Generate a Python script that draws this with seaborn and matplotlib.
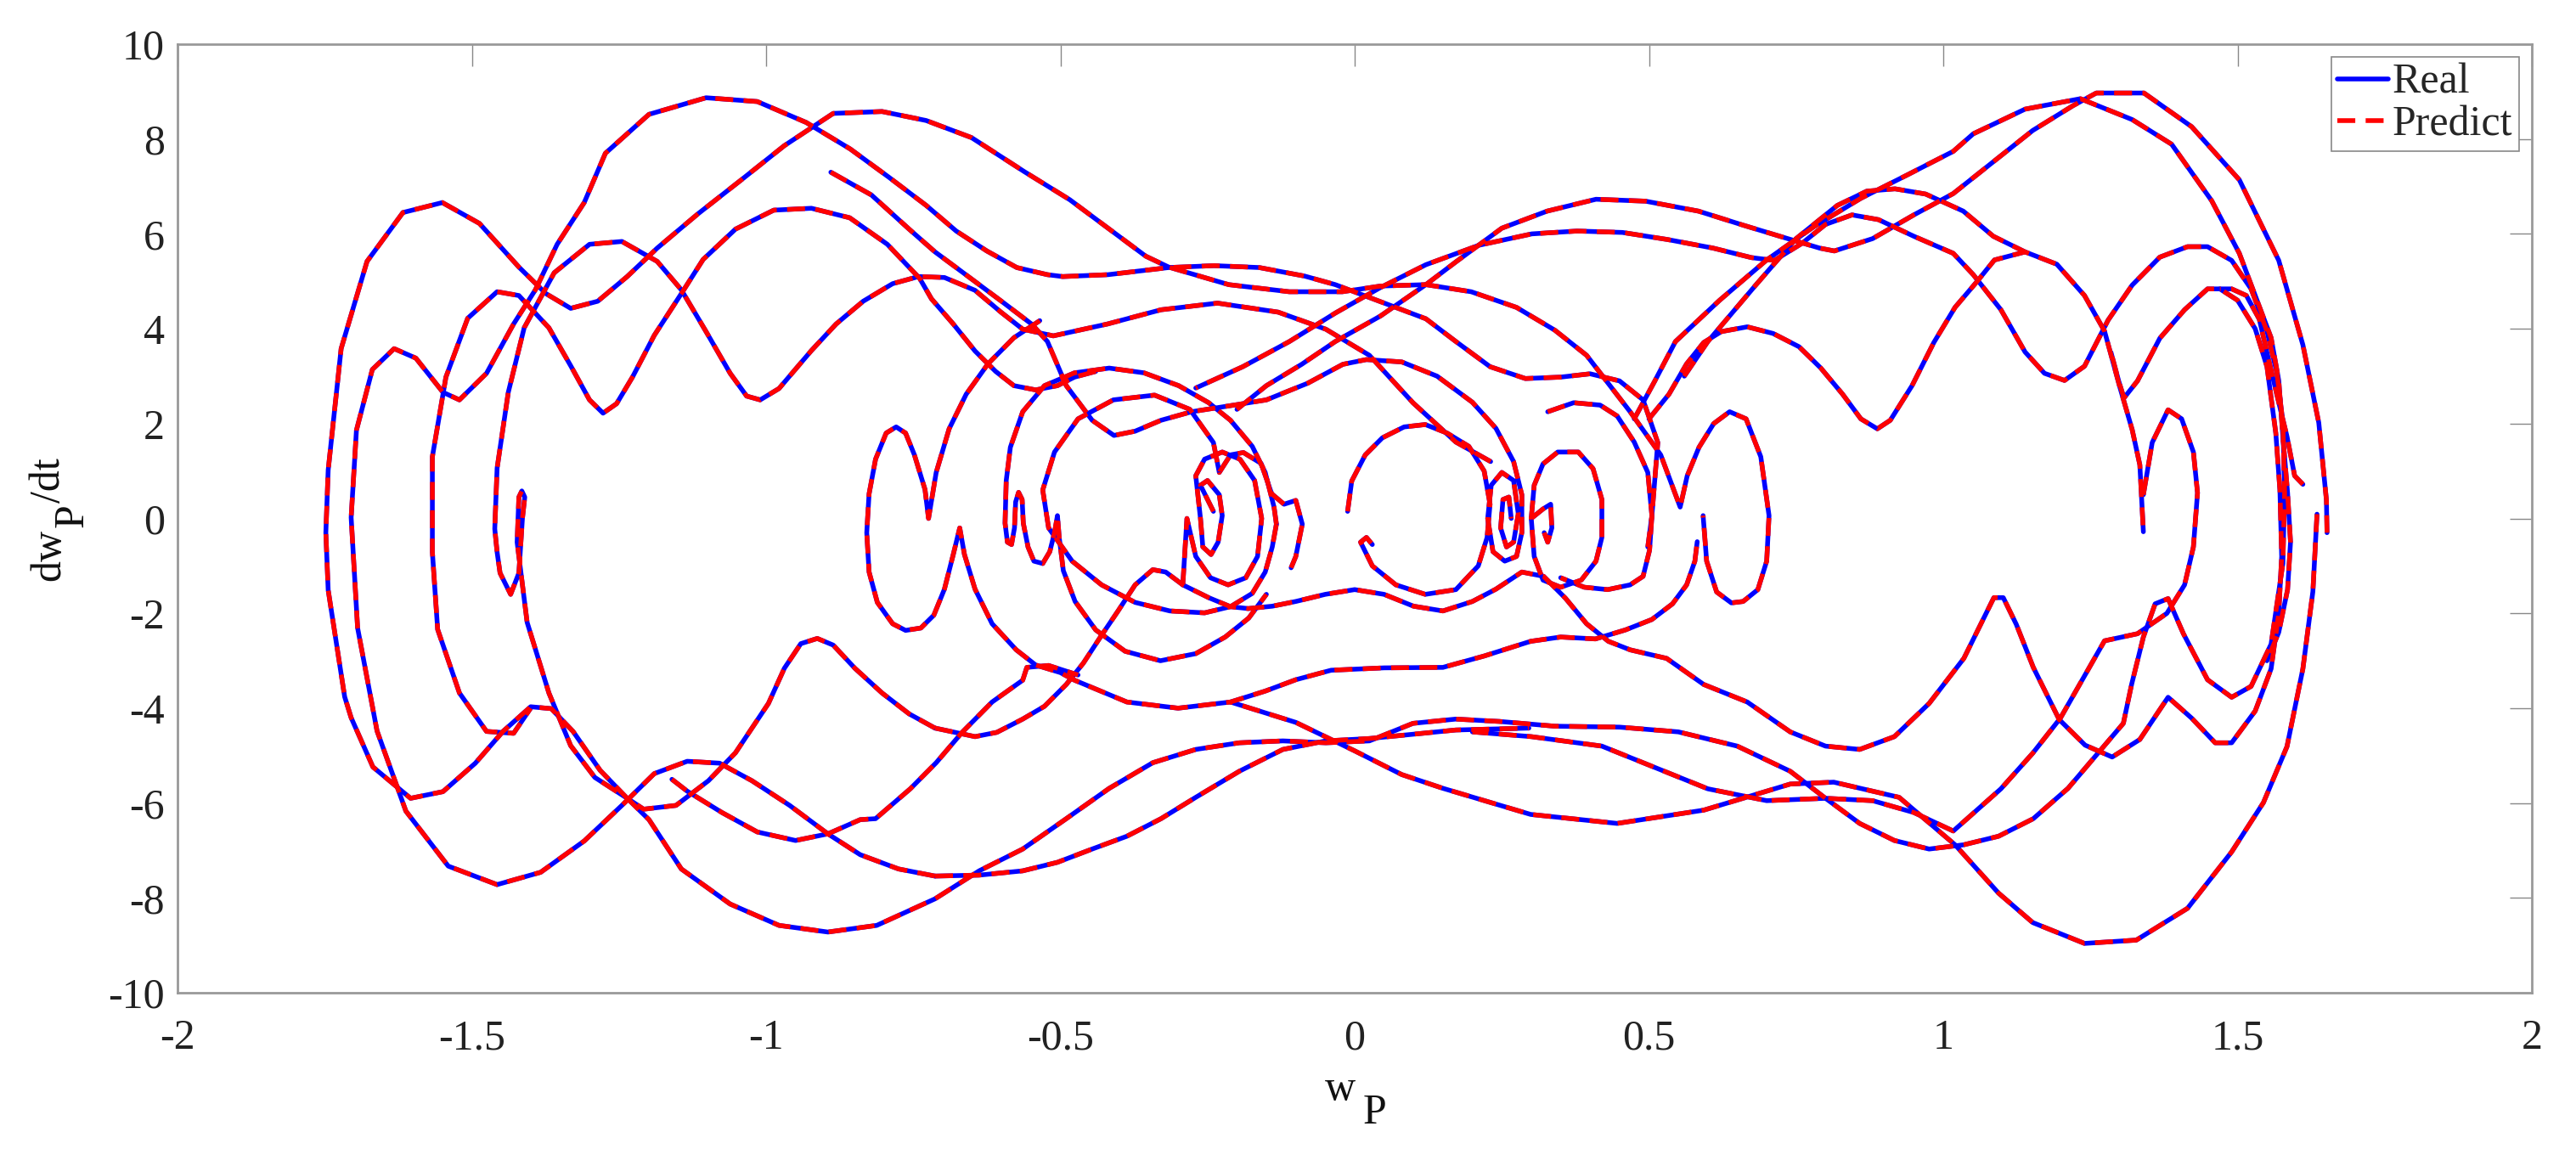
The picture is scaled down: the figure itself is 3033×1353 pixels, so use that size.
import numpy as np
import pandas as pd
import matplotlib
matplotlib.use("Agg")
import matplotlib.pyplot as plt
from matplotlib.lines import Line2D
import seaborn as sns

# traced pieces of the phase trajectory (w_P, dw_P/dt)
# ---- left lobe ----
arc_outer_left = [(-0.713, -4.42), (-0.757, -4.12), (-0.803, -3.68), (-0.849, -3.16), (-0.886, -2.67),
                  (-0.913, -2.53), (-0.941, -2.64), (-0.969, -3.16), (-0.996, -3.90), (-1.052, -4.94),
                  (-1.098, -5.53), (-1.153, -6.05), (-1.208, -6.13), (-1.236, -5.90), (-1.282, -5.31),
                  (-1.328, -4.49), (-1.365, -4.01), (-1.400, -3.97), (-1.447, -4.49), (-1.494, -5.16),
                  (-1.549, -5.76), (-1.604, -5.90), (-1.668, -5.24), (-1.705, -4.20), (-1.716, -3.76),
                  (-1.744, -1.51), (-1.748, -0.30), (-1.744, 1.02), (-1.722, 3.58), (-1.678, 5.42),
                  (-1.617, 6.45), (-1.550, 6.66), (-1.487, 6.22), (-1.420, 5.30), (-1.374, 4.74),
                  (-1.332, 4.43), (-1.286, 4.58), (-1.236, 5.10), (-1.185, 5.70), (-1.116, 6.42),
                  (-1.042, 7.14), (-0.969, 7.86), (-0.886, 8.54), (-0.803, 8.58), (-0.728, 8.39),
                  (-0.651, 8.03), (-0.561, 7.31), (-0.484, 6.72), (-0.419, 6.12), (-0.355, 5.53),
                  (-0.316, 5.30), (-0.214, 4.93), (-0.111, 4.78), (-0.021, 4.78), (0.044, 4.90),
                  (0.121, 4.93), (0.198, 4.78), (0.275, 4.45), (0.340, 3.97), (0.394, 3.44),
                  (0.468, 2.25), (0.520, 1.34), (0.553, 0.24), (0.565, 0.90), (0.585, 1.50),
                  (0.610, 2.00), (0.637, 2.25), (0.665, 2.10), (0.690, 1.30), (0.704, 0.06),
                  (0.700, -0.90), (0.685, -1.50), (0.660, -1.75), (0.640, -1.78), (0.615, -1.55),
                  (0.598, -0.90), (0.592, 0.06)]

arc_second_left = [(-0.713, -7.54), (-0.775, -7.39), (-0.840, -7.09), (-0.895, -6.65), (-0.960, -6.05),
                   (-1.024, -5.53), (-1.079, -5.16), (-1.134, -5.12), (-1.190, -5.38), (-1.245, -6.05),
                   (-1.309, -6.80), (-1.383, -7.46), (-1.457, -7.72), (-1.540, -7.33), (-1.612, -6.17),
                   (-1.661, -4.48), (-1.694, -2.31), (-1.705, 0.02), (-1.696, 1.86), (-1.669, 3.14),
                   (-1.632, 3.58), (-1.595, 3.38), (-1.549, 2.66), (-1.521, 2.50), (-1.475, 3.06),
                   (-1.429, 4.10), (-1.392, 4.82), (-1.355, 5.78), (-1.309, 6.66), (-1.273, 7.70),
                   (-1.199, 8.52), (-1.102, 8.87), (-1.015, 8.79), (-0.932, 8.35), (-0.857, 7.79),
                   (-0.792, 7.20), (-0.728, 6.60), (-0.677, 6.06), (-0.625, 5.64), (-0.574, 5.29),
                   (-0.522, 5.14), (-0.496, 5.10), (-0.419, 5.14), (-0.316, 5.29), (-0.239, 5.33),
                   (-0.162, 5.29), (-0.085, 5.11), (-0.033, 4.93), (0.044, 4.57), (0.121, 4.21),
                   (0.172, 3.73), (0.230, 3.20), (0.290, 2.95), (0.350, 2.98), (0.400, 3.05),
                   (0.450, 2.90), (0.490, 2.50), (0.515, 1.60), (0.505, 0.06), (0.501, -0.67),
                   (0.490, -1.22), (0.468, -1.40), (0.430, -1.50), (0.390, -1.45), (0.350, -1.25)]

arc_third_left = [(-0.440, 3.10), (-0.476, 2.98), (-0.505, 2.80), (-0.542, 2.71), (-0.579, 2.80),
                  (-0.610, 3.10), (-0.645, 3.53), (-0.682, 4.10), (-0.719, 4.63), (-0.739, 5.06),
                  (-0.794, 5.78), (-0.858, 6.34), (-0.923, 6.54), (-0.987, 6.50),
                  (-1.052, 6.10), (-1.107, 5.46), (-1.144, 4.74), (-1.190, 3.86), (-1.227, 2.98),
                  (-1.254, 2.42), (-1.277, 2.22), (-1.300, 2.50), (-1.332, 3.22), (-1.369, 4.02),
                  (-1.420, 4.70), (-1.457, 4.78), (-1.507, 4.22), (-1.544, 2.98), (-1.567, 1.30),
                  (-1.567, -0.71), (-1.558, -2.34), (-1.521, -3.68), (-1.475, -4.49), (-1.429, -4.53),
                  (-1.400, -4.00)]

arc_long = [(0.231, 1.20), (0.172, 1.61), (0.099, 2.44), (0.025, 3.44), (-0.049, 3.99),
            (-0.130, 4.35), (-0.233, 4.54), (-0.329, 4.40), (-0.420, 4.10), (-0.512, 3.85),
            (-0.564, 3.99), (-0.601, 4.35), (-0.645, 4.81), (-0.697, 5.08), (-0.741, 5.10),
            (-0.785, 4.95), (-0.835, 4.58), (-0.881, 4.10), (-0.923, 3.54), (-0.978, 2.74),
            (-1.010, 2.50), (-1.033, 2.58), (-1.061, 3.06), (-1.102, 3.94), (-1.144, 4.82),
            (-1.185, 5.42), (-1.245, 5.84), (-1.300, 5.78), (-1.360, 5.18), (-1.411, 4.02),
            (-1.438, 2.66), (-1.457, 1.06), (-1.461, -0.22), (-1.457, -0.71), (-1.452, -1.15),
            (-1.434, -1.60), (-1.420, -1.15), (-1.414, 0.00), (-1.410, 0.45), (-1.415, 0.58),
            (-1.420, 0.45), (-1.423, -0.50), (-1.415, -1.30), (-1.406, -2.19), (-1.369, -3.68),
            (-1.332, -4.79), (-1.291, -5.46), (-1.236, -5.90), (-1.199, -6.35), (-1.144, -7.39),
            (-1.061, -8.13), (-0.978, -8.58), (-0.895, -8.72), (-0.812, -8.58), (-0.713, -8.02),
            (-0.638, -7.43), (-0.564, -6.97), (-0.490, -6.33), (-0.417, -5.69), (-0.343, -5.15),
            (-0.270, -4.87), (-0.196, -4.73), (-0.122, -4.69), (-0.049, -4.73), (0.025, -4.69),
            (0.099, -4.32), (0.172, -4.23), (0.246, -4.28), (0.340, -4.38), (0.450, -4.40),
            (0.550, -4.50), (0.650, -4.80), (0.740, -5.33), (0.800, -5.90), (0.858, -6.43),
            (0.917, -6.79), (0.976, -6.97), (1.035, -6.88), (1.094, -6.70), (1.153, -6.33),
            (1.212, -5.69), (1.256, -5.05), (1.306, -4.32), (1.320, -3.50), (1.340, -2.50),
            (1.360, -1.80), (1.382, -1.69), (1.408, -2.43), (1.449, -3.40), (1.490, -3.77),
            (1.523, -3.54), (1.557, -2.65), (1.577, -0.95), (1.580, 0.54), (1.577, 2.02),
            (1.567, 3.06), (1.550, 3.95), (1.523, 4.84), (1.490, 5.44), (1.449, 5.73),
            (1.415, 5.73), (1.368, 5.51), (1.321, 4.92), (1.280, 4.18), (1.240, 3.21),
            (1.206, 2.91), (1.172, 3.06), (1.139, 3.51), (1.098, 4.40), (1.051, 5.14),
            (1.017, 5.59), (0.950, 5.95), (0.890, 6.30), (0.845, 6.40), (0.800, 6.20),
            (0.760, 5.80), (0.713, 5.44), (0.674, 5.50), (0.609, 5.70), (0.532, 5.88),
            (0.455, 6.03), (0.378, 6.06), (0.301, 6.00), (0.211, 5.76), (0.121, 5.35),
            (0.044, 4.87), (-0.033, 4.33), (-0.111, 3.73), (-0.190, 3.20), (-0.270, 2.75)]

arc_start = [(-0.890, 7.30), (-0.821, 6.82), (-0.757, 6.10), (-0.713, 5.62), (-0.664, 5.17),
             (-0.599, 4.57), (-0.548, 4.09), (-0.522, 3.73), (-0.490, 2.80), (-0.446, 2.07),
             (-0.409, 1.75), (-0.373, 1.84), (-0.329, 2.07), (-0.277, 2.25), (-0.200, 2.40),
             (-0.150, 2.50), (-0.080, 2.85), (-0.020, 3.25), (0.020, 3.35), (0.080, 3.30),
             (0.140, 3.00), (0.200, 2.45), (0.240, 1.90), (0.270, 1.20), (0.284, 0.50),
             (0.284, -0.30), (0.275, -0.80), (0.255, -0.90), (0.235, -0.70), (0.226, 0.00),
             (0.232, 0.70), (0.250, 0.97), (0.270, 0.80), (0.278, 0.10), (0.270, -0.50),
             (0.258, -0.60), (0.248, -0.20), (0.252, 0.40), (0.262, 0.45), (0.266, 0.00)]

# ---- centre loops ----
loop_m072 = [(-0.535, 4.17), (-0.579, 3.81), (-0.623, 3.26), (-0.660, 2.62), (-0.689, 1.89),
             (-0.711, 0.97), (-0.724, 0.00), (-0.730, 0.61), (-0.748, 1.34), (-0.763, 1.80),
             (-0.779, 1.93), (-0.796, 1.80), (-0.814, 1.25), (-0.825, 0.52), (-0.829, -0.30),
             (-0.825, -1.13), (-0.811, -1.77), (-0.785, -2.22), (-0.763, -2.36), (-0.737, -2.31),
             (-0.715, -2.04), (-0.697, -1.49), (-0.682, -0.76), (-0.671, -0.20), (-0.663, -0.76),
             (-0.645, -1.49), (-0.616, -2.22), (-0.575, -2.77), (-0.542, -3.09), (-0.500, -3.25),
             (-0.476, -3.41), (-0.387, -3.87), (-0.300, -4.00), (-0.211, -3.87), (-0.152, -3.64),
             (-0.100, -3.40), (-0.040, -3.20), (0.050, -3.15), (0.150, -3.14), (0.220, -2.90),
             (0.299, -2.59), (0.350, -2.50), (0.409, -2.54), (0.460, -2.35), (0.505, -2.13),
             (0.540, -1.80), (0.564, -1.40), (0.578, -0.90), (0.582, -0.49)]

loop_m057 = [(-0.133, -0.12), (-0.137, 0.24), (-0.152, 0.97), (-0.174, 1.52), (-0.211, 2.07),
             (-0.248, 2.44), (-0.299, 2.80), (-0.358, 3.07), (-0.417, 3.17), (-0.476, 3.07),
             (-0.527, 2.80), (-0.564, 2.25), (-0.585, 1.50), (-0.592, 0.80), (-0.594, -0.10),
             (-0.590, -0.50), (-0.583, -0.55), (-0.578, -0.20), (-0.576, 0.35), (-0.571, 0.55),
             (-0.565, 0.40), (-0.563, -0.10), (-0.555, -0.60), (-0.545, -0.90), (-0.530, -0.95),
             (-0.518, -0.70), (-0.510, -0.30), (-0.505, 0.06), (-0.502, -0.40), (-0.495, -1.10),
             (-0.475, -1.75), (-0.440, -2.35), (-0.390, -2.80), (-0.330, -3.00), (-0.270, -2.85),
             (-0.220, -2.50), (-0.180, -2.10), (-0.150, -1.60)]

ring_m033 = [(-0.133, -0.12), (-0.140, -0.60), (-0.152, -1.13), (-0.174, -1.58), (-0.211, -1.86),
             (-0.255, -1.99), (-0.314, -1.95), (-0.373, -1.77), (-0.430, -1.40), (-0.480, -0.90),
             (-0.520, -0.20), (-0.530, 0.60), (-0.510, 1.40), (-0.470, 2.10), (-0.410, 2.50),
             (-0.340, 2.60), (-0.280, 2.30), (-0.240, 1.60), (-0.230, 0.97), (-0.211, 1.34),
             (-0.189, 1.39), (-0.159, 1.16), (-0.141, 0.52), (-0.120, 0.30), (-0.100, 0.38),
             (-0.089, -0.12), (-0.100, -0.80), (-0.108, -1.04)]

ring_m025 = [(-0.240, 0.15), (-0.262, 0.70), (-0.250, 0.80), (-0.230, 0.50), (-0.225, 0.06),
             (-0.232, -0.50), (-0.244, -0.76), (-0.258, -0.60), (-0.262, 0.00), (-0.270, 0.90),
             (-0.255, 1.25), (-0.225, 1.40), (-0.195, 1.25), (-0.170, 0.80), (-0.158, 0.00),
             (-0.165, -0.80), (-0.185, -1.25), (-0.215, -1.40), (-0.245, -1.25), (-0.270, -0.80),
             (-0.285, 0.00), (-0.292, -1.40), (-0.248, -1.67), (-0.211, -1.86), (-0.181, -1.90),
             (-0.140, -1.85), (-0.100, -1.75), (-0.050, -1.60), (0.000, -1.50), (0.050, -1.60),
             (0.100, -1.85), (0.150, -1.95), (0.200, -1.75), (0.240, -1.49), (0.284, -1.13),
             (0.321, -1.22), (0.358, -1.68), (0.394, -2.22), (0.431, -2.59), (0.468, -2.77),
             (0.530, -2.95), (0.593, -3.50), (0.667, -3.87), (0.740, -4.50), (0.800, -4.80),
             (0.858, -4.87), (0.917, -4.60), (0.976, -3.90), (1.035, -2.95), (1.086, -1.67),
             (1.102, -1.67), (1.124, -2.23), (1.153, -3.14), (1.197, -4.24), (1.241, -4.78),
             (1.287, -5.03), (1.334, -4.66), (1.382, -3.77), (1.422, -4.21), (1.462, -4.73),
             (1.490, -4.73), (1.530, -4.06), (1.557, -3.17), (1.570, -2.00), (1.575, -0.80),
             (1.572, 0.60), (1.565, 1.80), (1.550, 3.20), (1.530, 4.00), (1.500, 4.60),
             (1.470, 4.84), (1.449, 4.84), (1.410, 4.40), (1.368, 3.80), (1.330, 2.90),
             (1.307, 2.54), (1.298, 2.90), (1.285, 3.50)]

ring_zero = [(-0.012, 0.15), (-0.005, 0.79), (0.018, 1.34), (0.047, 1.70), (0.084, 1.93),
             (0.120, 1.98), (0.157, 1.80), (0.194, 1.52), (0.220, 1.00), (0.230, 0.30),
             (0.225, -0.40), (0.210, -1.00), (0.172, -1.50), (0.120, -1.60), (0.070, -1.40),
             (0.030, -1.00), (0.010, -0.50), (0.020, -0.40), (0.030, -0.55)]

ring_p036 = [(0.300, 0.00), (0.305, 0.70), (0.320, 1.15), (0.345, 1.40), (0.380, 1.40),
             (0.405, 1.05), (0.420, 0.40), (0.420, -0.40), (0.410, -0.90), (0.385, -1.30),
             (0.350, -1.45), (0.320, -1.30), (0.305, -0.80), (0.300, 0.00), (0.320, 0.20),
             (0.333, 0.30), (0.335, -0.20), (0.328, -0.50), (0.322, -0.30)]

ring_p045 = [(0.328, 2.25), (0.372, 2.44), (0.417, 2.39), (0.446, 2.16), (0.475, 1.61),
             (0.498, 0.97), (0.505, 0.06), (0.498, -0.60)]

# ---- right lobe ----
arc_right_a = [(0.475, 2.10), (0.510, 2.90), (0.545, 3.73), (0.620, 4.60), (0.700, 5.45),
               (0.780, 6.15), (0.860, 6.75), (0.940, 7.25), (1.017, 7.74), (1.051, 8.11),
               (1.139, 8.63), (1.233, 8.85), (1.321, 8.41), (1.388, 7.89), (1.456, 6.70),
               (1.503, 5.59), (1.530, 4.70), (1.557, 3.81), (1.570, 2.91), (1.577, 1.73),
               (1.585, 0.54), (1.590, -0.50), (1.585, -1.50), (1.570, -2.40), (1.550, -3.00)]

arc_right_b = [(-0.200, 2.30), (-0.150, 2.80), (-0.090, 3.25), (-0.033, 3.73), (0.044, 4.27),
               (0.121, 4.93), (0.172, 5.41), (0.250, 6.12), (0.327, 6.48), (0.410, 6.73),
               (0.494, 6.69), (0.584, 6.48), (0.661, 6.18), (0.725, 5.94), (0.790, 5.70),
               (0.815, 5.64), (0.880, 5.90), (0.950, 6.40), (1.017, 6.85), (1.085, 7.52),
               (1.152, 8.18), (1.220, 8.70), (1.260, 8.97), (1.341, 8.97), (1.422, 8.26),
               (1.503, 7.14), (1.570, 5.44), (1.611, 3.66), (1.638, 2.02), (1.651, 0.39),
               (1.652, -0.30)]

arc_peak_b = [(0.560, 3.00), (0.600, 3.73), (0.680, 4.90), (0.750, 5.90), (0.820, 6.60),
              (0.870, 6.90), (0.918, 6.95), (0.970, 6.84), (1.034, 6.48), (1.085, 5.95),
              (1.139, 5.62), (1.193, 5.36), (1.240, 4.70), (1.274, 3.95), (1.300, 2.77),
              (1.321, 1.87), (1.334, 1.13), (1.340, -0.28)]

arc_v = [(0.500, 2.10), (0.534, 2.62), (0.564, 3.26), (0.593, 3.71), (0.623, 3.94), (0.667, 4.04),
         (0.711, 3.90), (0.755, 3.62), (0.792, 3.17), (0.829, 2.62), (0.860, 2.10), (0.888, 1.89),
         (0.910, 2.07), (0.947, 2.80), (0.984, 3.71), (1.020, 4.45), (1.057, 4.99), (1.087, 5.45),
         (1.139, 5.62)]

arc_right_hook = [(1.340, 0.50), (1.355, 1.60), (1.382, 2.29), (1.405, 2.10), (1.425, 1.40),
                  (1.432, 0.54), (1.425, -0.60), (1.410, -1.40), (1.380, -2.00), (1.330, -2.43),
                  (1.274, -2.58), (1.240, -3.32), (1.199, -4.21), (1.152, -4.95), (1.098, -5.70),
                  (1.017, -6.59), (0.950, -6.20), (0.880, -5.95), (0.800, -5.90), (0.700, -5.95),
                  (0.600, -5.70), (0.500, -5.20), (0.420, -4.80), (0.300, -4.60), (0.200, -4.50)]

arc_right_end = [(1.611, 0.72), (1.597, 0.90), (1.584, 1.73), (1.567, 2.60), (1.550, 3.50),
                 (1.537, 4.20), (1.515, 4.70), (1.490, 4.84), (1.470, 4.84)]

arc_outer_right_bot = [(1.635, 0.09), (1.628, -1.54), (1.611, -3.17), (1.584, -4.81), (1.544, -5.99),
                       (1.490, -7.03), (1.415, -8.22), (1.328, -8.89), (1.240, -8.96), (1.152, -8.52),
                       (1.094, -7.90), (1.020, -6.88), (0.925, -5.88), (0.814, -5.56), (0.740, -5.60),
                       (0.593, -6.15), (0.446, -6.43), (0.299, -6.24), (0.150, -5.69), (0.080, -5.40),
                       (0.000, -4.90), (-0.100, -4.30), (-0.211, -3.87)]

arc_centre_low = [(-0.713, -7.54), (-0.638, -7.52), (-0.564, -7.43), (-0.505, -7.25), (-0.446, -6.97),
                  (-0.387, -6.70), (-0.329, -6.33), (-0.270, -5.88), (-0.196, -5.33), (-0.122, -4.87),
                  (-0.049, -4.69), (0.025, -4.64), (0.099, -4.55), (0.172, -4.46), (0.296, -4.42)]

arc_left_rise = [(-1.160, -5.50), (-1.134, -5.75), (-1.075, -6.20), (-1.015, -6.61), (-0.950, -6.79),
                 (-0.895, -6.65), (-0.840, -6.35), (-0.814, -6.33), (-0.755, -5.70), (-0.711, -5.15),
                 (-0.667, -4.51), (-0.616, -3.87), (-0.564, -3.41), (-0.557, -3.14), (-0.520, -3.10),
                 (-0.470, -3.30)]

arc_mid_low = [(-0.713, -4.42), (-0.645, -4.60), (-0.608, -4.51), (-0.564, -4.23), (-0.527, -3.96),
               (-0.490, -3.50), (-0.461, -3.05), (-0.432, -2.50), (-0.402, -1.95), (-0.373, -1.40),
               (-0.343, -1.08), (-0.321, -1.13), (-0.292, -1.40)]

segments = {
    "outer_left": arc_outer_left, "second_left": arc_second_left, "third_left": arc_third_left,
    "long": arc_long, "start": arc_start, "loop_m072": loop_m072,
    "loop_m057": loop_m057, "ring_m033": ring_m033, "ring_m025": ring_m025, "ring_zero": ring_zero,
    "ring_p036": ring_p036, "ring_p045": ring_p045, "right_a": arc_right_a, "right_b": arc_right_b,
    "peak_b": arc_peak_b, "v": arc_v, "right_hook": arc_right_hook, "right_end": arc_right_end,
    "outer_right_bot": arc_outer_right_bot, "centre_low": arc_centre_low, "left_rise": arc_left_rise,
    "mid_low": arc_mid_low,
}

rows = []
for name, pts in segments.items():
    for i, (x, y) in enumerate(pts):
        rows.append({"seg": name, "order": i, "w": x, "dw": y})
df = pd.DataFrame(rows)

sns.set_style("white")
plt.rcParams["font.family"] = ["Liberation Serif", "DejaVu Serif"]

W, H = 3033, 1353
fig = plt.figure(figsize=(W / 100, H / 100), dpi=100)
ax = fig.add_axes([209 / W, 1 - 1169 / H, (2981 - 209) / W, (1169 - 52) / H])

lw = 4.0
sns.lineplot(data=df, x="w", y="dw", units="seg", estimator=None, sort=False,
             color="#0000ff", linewidth=lw, ax=ax)
n_real = len(ax.lines)
sns.lineplot(data=df, x="w", y="dw", units="seg", estimator=None, sort=False,
             color="#ff0000", linewidth=lw, ax=ax)
for ln in ax.lines[n_real:]:
    ln.set_dashes((3.8, 2.2))

ax.set_xlim(-2, 2)
ax.set_ylim(-10, 10)
ax.set_xticks(np.arange(-2, 2.01, 0.5))
ax.set_xticklabels(["-2", "-1.5", "-1", "-0.5", "0", "0.5", "1", "1.5", "2"])
ax.set_yticks(np.arange(-10, 10.1, 2))
ax.set_yticklabels([str(v) for v in range(-10, 11, 2)])
ax.tick_params(direction="in", length=19, width=1, color="#888888", top=True, right=True,
               labelsize=36, labelcolor="#222222")
ax.tick_params(axis="x", pad=22)
ax.tick_params(axis="y", pad=11)
for sp in ax.spines.values():
    sp.set_color("#999999")
    sp.set_linewidth(2)
ax.set_xlabel("")
ax.set_ylabel("")

# axis labels with full-size subscripts, as in the original
fs_lab = 36
fig.canvas.draw()
renderer = fig.canvas.get_renderer()
# x label: "w" then lowered "P"
tw = fig.text(1560 / W, 1 - 1295 / H, "w", fontsize=fs_lab, ha="left", va="baseline", color="#111111")
bb = tw.get_window_extent(renderer)
fig.text((bb.x1 + 8) / W, 1 - 1323 / H, "P", fontsize=fs_lab, ha="left", va="baseline", color="#111111")
# y label: rotated "dw", "P" shifted right, "/dt"
t1 = fig.text(70 / W, 1 - 684 / H, "dw", fontsize=fs_lab, rotation=90, rotation_mode="anchor",
              ha="left", va="baseline", color="#111111")
b1 = t1.get_window_extent(renderer)
t2 = fig.text(98 / W, (b1.y1 + 2) / H, "P", fontsize=fs_lab, rotation=90, rotation_mode="anchor",
              ha="left", va="baseline", color="#111111")
b2 = t2.get_window_extent(renderer)
fig.text(70 / W, (b2.y1 + 1) / H, "/dt", fontsize=fs_lab, rotation=90, rotation_mode="anchor",
         ha="left", va="baseline", color="#111111")

h_real = Line2D([], [], color="#0000ff", linewidth=lw)
h_pred = Line2D([], [], color="#ff0000", linewidth=lw, dashes=(3.8, 2.2))
leg = ax.legend([h_real, h_pred], ["Real", "Predict"], loc="upper right", fontsize=36,
                frameon=True, fancybox=False, framealpha=1, edgecolor="#888888",
                handlelength=1.2, handletextpad=0.1, labelspacing=0.05, borderpad=0.15,
                borderaxespad=0.3)
leg.get_frame().set_linewidth(1.2)

fig.savefig("out.png", dpi=100)
